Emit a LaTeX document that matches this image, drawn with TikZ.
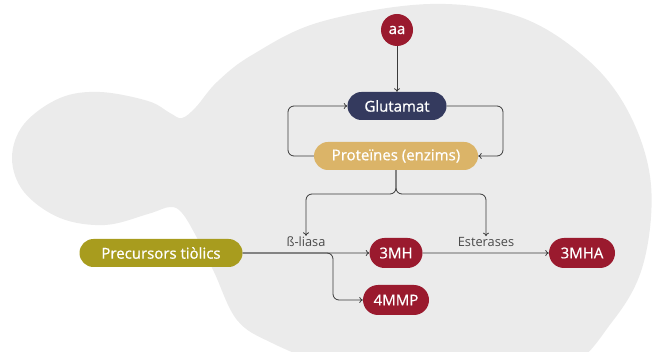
\documentclass[tikz,border=0pt]{standalone}
\usepackage{fontspec}
\setmainfont{Open Sans}
\newfontfamily\nodefont[FakeBold=0.7]{Open Sans}
\usetikzlibrary{arrows.meta,shapes.misc}
\definecolor{cellgray}{HTML}{EBEBEB}
\definecolor{wine}{HTML}{9A1A2E}
\definecolor{navy}{HTML}{343A5E}
\definecolor{sand}{HTML}{DBB468}
\definecolor{olive}{HTML}{A89C1E}
\definecolor{linec}{HTML}{3A3A3A}
\definecolor{labc}{HTML}{4A4A4A}
\begin{document}
\begin{tikzpicture}[x=1pt,y=-1pt,
  pill/.style={rounded rectangle, text=white, minimum height=28pt, inner sep=0pt, font=\nodefont\fontsize{15}{17}\selectfont},
  conn/.style={draw=linec, line width=0.8pt, -{To[length=3.5pt,width=6pt]}, rounded corners=6pt},
  lab/.style={text=labc, inner sep=1pt, font=\fontsize{12.8}{14}\selectfont}]
\useasboundingbox (0,0) rectangle (658,352);
\begin{scope}
\clip (0,0) rectangle (658,352);
\fill[cellgray] plot[smooth cycle, tension=0.6] coordinates {
(430,4) (520,17) (588,60) (630,115) (651,185) (643,265) (612,322) (560,372) (440,398) (335,368) (272,343) (237,320) (214,272) (196,236) (182,213) (170,207) (148,214) (105,225) (60,218) (24,192) (12,158) (24,124) (60,98) (100,92) (148,101) (170,113) (182,118) (196,107) (217,82) (252,55) (320,22)};
\end{scope}
\node[circle, fill=wine, text=white, minimum size=32pt, inner sep=0pt, font=\nodefont\fontsize{15}{17}\selectfont] (aa) at (397,30) {aa};
\node[pill, fill=navy, minimum width=99pt] (glu) at (397,106) {Glutamat};
\node[pill, fill=sand, minimum width=164pt] (prot) at (396,156) {Proteïnes (enzims)};
\node[pill, fill=olive, minimum width=163pt] (prec) at (161,253) {Precursors tiòlics};
\node[pill, fill=wine, minimum width=53pt, minimum height=30pt] (mh) at (396,253) {3MH};
\node[pill, fill=wine, minimum width=66pt, minimum height=30pt] (mha) at (582,253) {3MHA};
\node[pill, fill=wine, minimum width=66pt, minimum height=30pt] (mmp) at (396,300) {4MMP};
\node[lab] (bl) at (306,242) {ß-liasa};
\node[lab] (es) at (486,242) {Esterases};
\coordinate (rR) at (503,131);
\coordinate (lL) at (288,131);
\coordinate (sp) at (396,194);
\coordinate (k) at (333,276);
\draw[conn] (aa) -- (glu);
\draw[conn] (glu.east) -| (rR) |- (prot.east);
\draw[conn] (prot.west) -| (lL) |- (glu.west);
\draw[conn] (prot.south) -- (sp) -| (bl.north);
\draw[conn] (prot.south) -- (sp) -| (es.north);
\draw[conn] (prec) -- (mh);
\draw[conn] (prec.east) -| (k) |- (mmp.west);
\draw[conn] (mh) -- (mha);
\end{tikzpicture}
\end{document}
